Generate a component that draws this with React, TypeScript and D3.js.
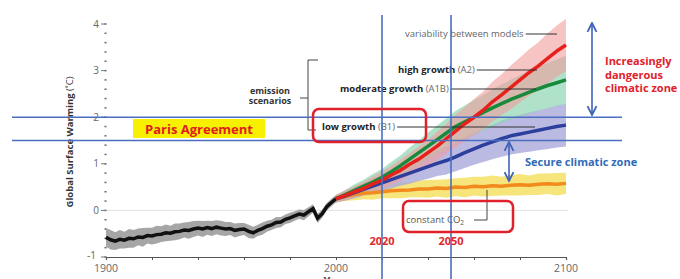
import React, { useRef, useEffect } from 'react';
import * as d3 from 'd3';

// historical model mean, 1900-2000 every 2 years
const histYears = d3.range(1900, 2001, 2);
const histValues = [
  -0.58, -0.63, -0.66, -0.62, -0.64, -0.6, -0.61, -0.57, -0.58, -0.54,
  -0.55, -0.52, -0.51, -0.48, -0.49, -0.46, -0.45, -0.42, -0.43, -0.4,
  -0.38, -0.4, -0.37, -0.39, -0.36, -0.38, -0.4, -0.39, -0.43, -0.41,
  -0.4, -0.45, -0.48, -0.43, -0.39, -0.34, -0.31, -0.26, -0.25, -0.19,
  -0.16, -0.12, -0.08, -0.1, -0.03, 0.04, -0.17, -0.07, 0.08, 0.17, 0.25,
];
const histSpread = [
  0.2, 0.21, 0.19, 0.2, 0.18, 0.2, 0.19, 0.18, 0.2, 0.17,
  0.18, 0.19, 0.17, 0.18, 0.16, 0.18, 0.17, 0.16, 0.18, 0.17,
  0.16, 0.17, 0.15, 0.16, 0.15, 0.16, 0.15, 0.14, 0.15, 0.14,
  0.13, 0.14, 0.13, 0.12, 0.13, 0.12, 0.11, 0.12, 0.11, 0.1,
  0.11, 0.1, 0.1, 0.11, 0.1, 0.09, 0.1, 0.09, 0.08, 0.08, 0.08,
];

// projections, 2000-2100 every 4 years
const projYears = d3.range(2000, 2101, 4);
const a2Values = [
  0.25, 0.32, 0.4, 0.47, 0.57, 0.65, 0.76, 0.86, 0.99, 1.1, 1.24, 1.38, 1.54,
  1.7, 1.86, 2.0, 2.15, 2.33, 2.48, 2.64, 2.8, 2.96, 3.1, 3.26, 3.42, 3.55,
];
const a2Spread = [
  0.08, 0.11, 0.12, 0.15, 0.16, 0.19, 0.2, 0.23, 0.24, 0.27, 0.28, 0.31, 0.32,
  0.35, 0.36, 0.39, 0.4, 0.43, 0.44, 0.47, 0.48, 0.5, 0.51, 0.54, 0.55, 0.56,
];
const a1bValues = [
  0.25, 0.34, 0.43, 0.52, 0.61, 0.71, 0.83, 0.96, 1.1, 1.24, 1.38, 1.52, 1.66,
  1.8, 1.9, 2.0, 2.1, 2.2, 2.29, 2.38, 2.46, 2.54, 2.61, 2.68, 2.74, 2.8,
];
const a1bSpread = [
  0.08, 0.1, 0.13, 0.14, 0.17, 0.18, 0.21, 0.22, 0.25, 0.26, 0.29, 0.3, 0.32,
  0.34, 0.35, 0.37, 0.38, 0.4, 0.41, 0.43, 0.44, 0.46, 0.47, 0.49, 0.5, 0.52,
];
const b1Values = [
  0.25, 0.31, 0.38, 0.45, 0.52, 0.59, 0.66, 0.73, 0.8, 0.87, 0.94, 1.01, 1.07,
  1.15, 1.24, 1.32, 1.4, 1.47, 1.54, 1.6, 1.64, 1.68, 1.72, 1.76, 1.8, 1.83,
];
const b1Spread = [
  0.08, 0.1, 0.12, 0.13, 0.16, 0.17, 0.19, 0.2, 0.23, 0.24, 0.26, 0.27, 0.3,
  0.31, 0.33, 0.34, 0.36, 0.37, 0.39, 0.4, 0.41, 0.42, 0.43, 0.44, 0.45, 0.46,
];
const constValues = [
  0.25, 0.3, 0.34, 0.37, 0.38, 0.4, 0.42, 0.43, 0.44, 0.46, 0.46, 0.48, 0.47,
  0.5, 0.49, 0.52, 0.51, 0.53, 0.52, 0.54, 0.55, 0.54, 0.56, 0.57, 0.56, 0.58,
];
const constSpread = [
  0.08, 0.1, 0.12, 0.13, 0.15, 0.14, 0.16, 0.17, 0.16, 0.18, 0.19, 0.18, 0.2,
  0.19, 0.21, 0.2, 0.21, 0.22, 0.2, 0.22, 0.23, 0.21, 0.23, 0.22, 0.24, 0.23,
];

const yTickLabels = [-1, 0, 1, 2, 3, 4];
const xTickLabels = [1900, 2000, 2100];
const parisLimits = [2, 1.5];
const markerYears = [2020, 2050];

const scenarios = [
  { name: 'constant', values: constValues, spread: constSpread, line: '#f28a1e', band: '#f4e164', bandOpacity: 0.85 },
  { name: 'B1', values: b1Values, spread: b1Spread, line: '#2d3f9c', band: '#a9a9dc', bandOpacity: 0.8 },
  { name: 'A1B', values: a1bValues, spread: a1bSpread, line: '#178a3c', band: '#8fd5b2', bandOpacity: 0.7 },
  { name: 'A2', values: a2Values, spread: a2Spread, line: '#e8201c', band: '#f19c9c', bandOpacity: 0.6 },
];

type Pt = { year: number; v: number; s: number };

const App: React.FC = () => {
  const ref = useRef<SVGSVGElement | null>(null);

  useEffect(() => {
    document.body.style.margin = '0';
    if (!ref.current) return;
    const svg = d3.select(ref.current);
    svg.selectAll('*').remove();

    const font = "'Open Sans', 'Noto Sans', sans-serif";
    const x = d3.scaleLinear().domain([1900, 2100]).range([106, 566]);
    const y = d3.scaleLinear().domain([-1, 4]).range([257, 24]);

    const area = d3.area<Pt>().x(d => x(d.year)).y0(d => y(d.v - d.s)).y1(d => y(d.v + d.s));
    const line = d3.line<Pt>().x(d => x(d.year)).y(d => y(d.v));

    // zero gridline
    svg.append('line')
      .attr('x1', x(1900)).attr('x2', x(2100) + 2)
      .attr('y1', y(0)).attr('y2', y(0))
      .attr('stroke', '#e2e2e2').attr('stroke-width', 1);

    // y axis: minor dots + labelled integers
    const minor = d3.range(-1, 4.01, 0.2);
    svg.append('g').selectAll('line').data(minor).join('line')
      .attr('x1', x(1900) - 1.5).attr('x2', x(1900) + 0.5)
      .attr('y1', d => y(d)).attr('y2', d => y(d))
      .attr('stroke', '#666').attr('stroke-width', 1.5);
    svg.append('g').selectAll('line').data(yTickLabels).join('line')
      .attr('x1', x(1900) - 5).attr('x2', x(1900))
      .attr('y1', d => y(d)).attr('y2', d => y(d))
      .attr('stroke', '#777').attr('stroke-width', 1);
    svg.append('g').selectAll('text').data(yTickLabels).join('text')
      .attr('x', d => (d === -1 ? x(1900) - 10 : x(1900) - 7)).attr('y', d => (d === -1 ? y(d) + 2 : y(d) + 3.5))
      .attr('text-anchor', 'end').attr('font-family', font).attr('font-size', 10)
      .attr('fill', '#666').text(d => String(d));

    // x axis
    const xAxis = svg.append('g').attr('transform', `translate(0,${y(-1)})`)
      .call(d3.axisBottom(x).tickValues(d3.range(1900, 2101, 20)).tickSize(3).tickFormat(() => ''));
    xAxis.select('.domain').attr('stroke', '#555').attr('stroke-width', 1.2);
    xAxis.selectAll('.tick line').attr('stroke', '#555');
    svg.append('g').selectAll('text').data(xTickLabels).join('text')
      .attr('x', d => x(d)).attr('y', 272)
      .attr('text-anchor', 'middle').attr('font-family', font).attr('font-size', 10.5)
      .attr('fill', '#666').text(d => String(d));
    svg.append('text').attr('x', x(2000)).attr('y', 285).attr('text-anchor', 'middle')
      .attr('font-family', font).attr('font-size', 11).attr('font-weight', 'bold')
      .attr('fill', '#444').text('Year');

    // y axis title
    const yt = svg.append('text')
      .attr('transform', 'translate(73,142) rotate(-90)')
      .attr('text-anchor', 'middle').attr('font-family', font).attr('font-size', 9.5)
      .attr('fill', '#333');
    yt.append('tspan').attr('font-weight', 'bold').text('Global Surface Warming ');
    yt.append('tspan').text('(˚C)');

    // historical
    const hist: Pt[] = histYears.map((yr, i) => ({ year: yr, v: histValues[i], s: histSpread[i] }));
    svg.append('path').datum(hist).attr('d', area).attr('fill', '#a6a6a6');

    // projection bands then lines
    const series = scenarios.map(sc => ({
      ...sc,
      pts: projYears.map((yr, i) => ({ year: yr, v: sc.values[i], s: sc.spread[i] })) as Pt[],
    }));
    series.forEach(sc => {
      svg.append('path').datum(sc.pts).attr('d', area)
        .attr('fill', sc.band).attr('fill-opacity', sc.bandOpacity);
    });
    svg.append('path').datum(hist).attr('d', line)
      .attr('fill', 'none').attr('stroke', '#111').attr('stroke-width', 3.5);
    series.forEach(sc => {
      svg.append('path').datum(sc.pts).attr('d', line)
        .attr('fill', 'none').attr('stroke', sc.line).attr('stroke-width', 3.5)
        .attr('stroke-linejoin', 'round');
    });

    // annotations: labels with leader lines
    const ann = svg.append('g').attr('font-family', font).attr('font-size', 9.5);
    const label = (xx: number, yy: number, bold: string, normal: string, lineEnd: number) => {
      const t = ann.append('text').attr('x', xx).attr('y', yy).attr('fill', '#222');
      if (bold) t.append('tspan').attr('font-weight', 'bold').text(bold + ' ');
      t.append('tspan').attr('fill', '#666').text(normal);
      const w = (t.node() as SVGTextElement).getComputedTextLength();
      ann.append('line').attr('x1', xx + w + 2).attr('x2', lineEnd)
        .attr('y1', yy - 3).attr('y2', yy - 3).attr('stroke', '#333').attr('stroke-width', 1);
    };
    label(405, 37, '', 'variability between models', 557);
    label(398, 73, 'high growth', '(A2)', 537);
    label(340, 92, 'moderate growth', '(A1B)', 536);
    label(322, 130, 'low growth', '(B1)', 535);

    // emission scenarios bracket
    ann.append('text').attr('x', 270).attr('y', 94).attr('text-anchor', 'middle').attr('font-size', 9)
      .attr('font-weight', 'bold').attr('fill', '#333').text('emission');
    ann.append('text').attr('x', 270).attr('y', 104).attr('text-anchor', 'middle').attr('font-size', 9)
      .attr('font-weight', 'bold').attr('fill', '#333').text('scenarios');
    ann.append('path').attr('d', 'M318,60H308V130H316M308,98H300')
      .attr('fill', 'none').attr('stroke', '#444').attr('stroke-width', 1);

    // constant CO2 label
    const ct = ann.append('text').attr('x', 406).attr('y', 223).attr('fill', '#555');
    ct.append('tspan').text('constant CO');
    ct.append('tspan').attr('font-size', 6.5).attr('dy', 2).text('2');
    ann.append('path').attr('d', `M474,220H487V${y(0.44)}`)
      .attr('fill', 'none').attr('stroke', '#444').attr('stroke-width', 1);

    // Paris limit lines and year markers
    const blue = '#4a6fc0';
    svg.append('g').selectAll('line').data(parisLimits).join('line')
      .attr('x1', 12).attr('x2', 622).attr('y1', d => y(d)).attr('y2', d => y(d))
      .attr('stroke', blue).attr('stroke-width', 1.6);
    svg.append('g').selectAll('line').data(markerYears).join('line')
      .attr('x1', d => x(d)).attr('x2', d => x(d)).attr('y1', 15).attr('y2', 279)
      .attr('stroke', blue).attr('stroke-width', 1.6);
    svg.append('g').selectAll('text').data(markerYears).join('text')
      .attr('x', d => x(d)).attr('y', 245).attr('text-anchor', 'middle')
      .attr('font-family', font).attr('font-size', 11).attr('font-weight', 'bold')
      .attr('fill', '#e02a2a').text(d => String(d));

    // Paris Agreement box
    svg.append('rect').attr('x', 133).attr('y', 119).attr('width', 132).attr('height', 19).attr('fill', '#f7f000');
    svg.append('text').attr('x', 199).attr('y', 133.5).attr('text-anchor', 'middle')
      .attr('font-family', font).attr('font-size', 13).attr('font-weight', 'bold')
      .attr('fill', '#e02020').text('Paris Agreement');

    // red highlight boxes
    svg.append('rect').attr('x', 313).attr('y', 109).attr('width', 113).attr('height', 33).attr('rx', 6)
      .attr('fill', 'none').attr('stroke', '#e0202a').attr('stroke-width', 2.5);
    svg.append('rect').attr('x', 403).attr('y', 201).attr('width', 110).attr('height', 31).attr('rx', 6)
      .attr('fill', 'none').attr('stroke', '#e0202a').attr('stroke-width', 2.5);

    // zone arrows
    const defs = svg.append('defs');
    defs.append('marker').attr('id', 'arr').attr('viewBox', '0 0 10 10').attr('refX', 9).attr('refY', 5)
      .attr('markerWidth', 7).attr('markerHeight', 7).attr('orient', 'auto-start-reverse')
      .append('path').attr('d', 'M1,1L9,5L1,9').attr('fill', 'none').attr('stroke', '#3f63b8').attr('stroke-width', 1.6);
    svg.append('line').attr('x1', 592).attr('x2', 592).attr('y1', 23).attr('y2', 115)
      .attr('stroke', '#3f63b8').attr('stroke-width', 1.6)
      .attr('marker-start', 'url(#arr)').attr('marker-end', 'url(#arr)');
    svg.append('line').attr('x1', 509).attr('x2', 509).attr('y1', 142).attr('y2', 181)
      .attr('stroke', '#3f63b8').attr('stroke-width', 1.6)
      .attr('marker-start', 'url(#arr)').attr('marker-end', 'url(#arr)');

    const zone = svg.append('g').attr('font-family', font).attr('font-size', 11).attr('font-weight', 'bold');
    ['Increasingly', 'dangerous', 'climatic zone'].forEach((t, i) => {
      zone.append('text').attr('x', 605).attr('y', 65 + i * 13.5).attr('fill', '#e0202a').text(t);
    });
    zone.append('text').attr('x', 525).attr('y', 166).attr('fill', '#2f6bb8').text('Secure climatic zone');
  }, []);

  return <svg ref={ref} width={680} height={279} style={{ display: 'block', background: '#fff' }} />;
};

export default App;
